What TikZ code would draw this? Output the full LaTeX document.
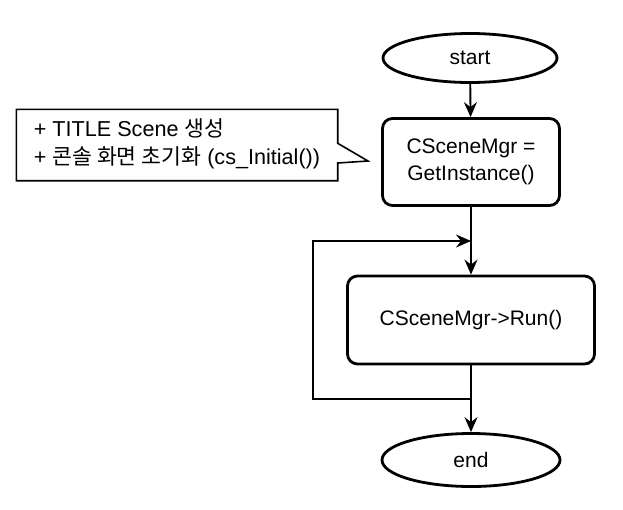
\documentclass[tikz,border=0pt]{standalone}
\usepackage{fontspec}
\setmainfont{Liberation Sans}
\newfontfamily\cjk{Noto Sans CJK KR}
\usetikzlibrary{shapes.geometric, arrows.meta, positioning}

\tikzset{
  terminal/.style={ellipse, draw, line width=2.8pt, fill=white},
  process/.style={rectangle, rounded corners=10pt, draw, line width=2.8pt, fill=white, align=center},
  flow/.style={line width=1.9pt, -{Stealth[length=15pt,width=13pt,inset=5pt]}},
  noteline/.style={line width=1.6pt, line join=miter}
}

\begin{document}
\begin{tikzpicture}[x=1pt, y=-1pt, font=\fontsize{21}{27}\selectfont]
\useasboundingbox (0,0) rectangle (623,509);

\node[terminal, minimum width=174pt, minimum height=49pt] at (470,58) (start) {start};

\node[process, minimum width=177pt, minimum height=87pt] at (471,162) (getinst) {CSceneMgr =\\GetInstance()};

\node[process, minimum width=247pt, minimum height=88pt] at (471,320) (run) {CSceneMgr->Run()};

\node[terminal, minimum width=178pt, minimum height=53pt] at (471,460) (end) {end};

% callout beside GetInstance
\node[minimum width=321pt, minimum height=71pt, align=left, inner sep=0pt,
  font=\fontsize{21.6}{28}\selectfont, text depth=6pt] at (177,145) (init)
  {+ TITLE Scene {\cjk 생성}\\+ {\cjk 콘솔 화면 초기화} (cs\_Initial())};
\coordinate (notetip) at (368,161);
\draw[noteline] (init.north west) -- (init.north east) -- ++(0,34) -- (notetip)
  -- (init.east |- 0,163) -- (init.south east) -- (init.south west) -- cycle;

\coordinate (loopin) at (471,241);
\coordinate (loopout) at (471,399);

\draw[flow] (start) -- (getinst);
\draw[flow] (getinst) -- (run);
\draw[flow] (run) -- (end);
\draw[flow] (loopout) -- ++(-158,0) |- (loopin);

\end{tikzpicture}
\end{document}
